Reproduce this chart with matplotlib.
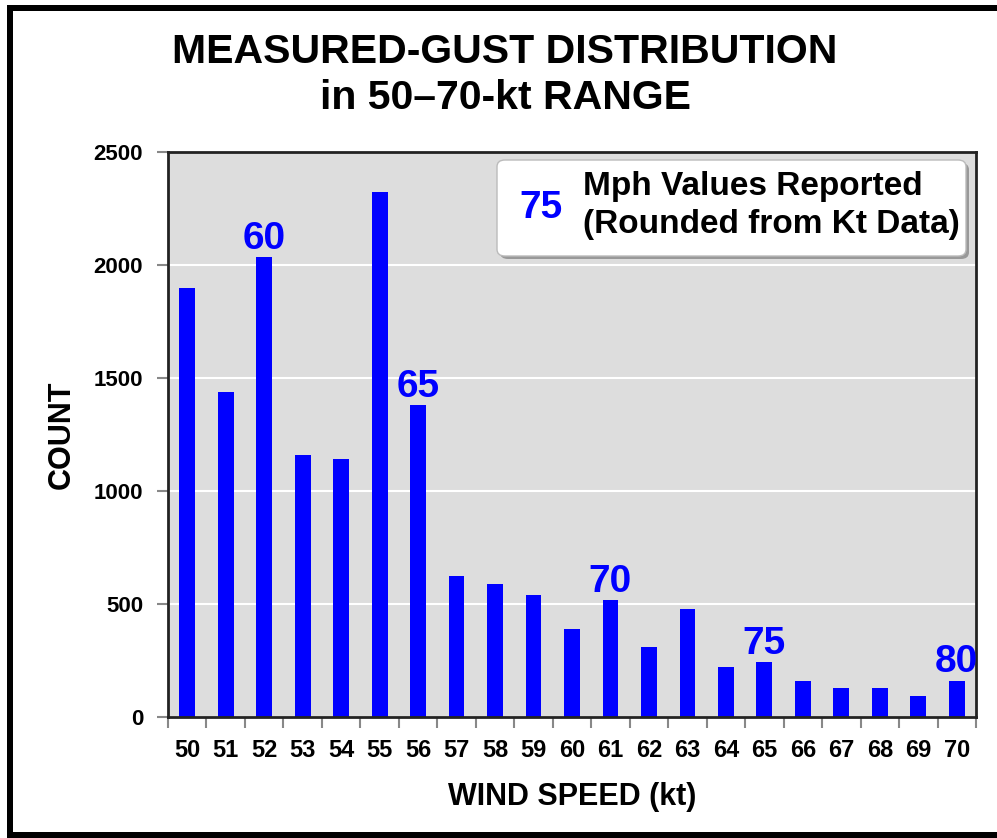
import matplotlib
matplotlib.use("Agg")
import matplotlib.pyplot as plt
from matplotlib.patches import FancyBboxPatch
from matplotlib.lines import Line2D

plt.rcParams['font.family'] = ['Liberation Sans', 'DejaVu Sans']
plt.rcParams['font.weight'] = 'bold'

# ---- data ----
wind_kt = [50, 51, 52, 53, 54, 55, 56, 57, 58, 59, 60,
           61, 62, 63, 64, 65, 66, 67, 68, 69, 70]
counts = [1900, 1440, 2035, 1160, 1142, 2325, 1380, 624, 588, 540, 389,
          518, 311, 479, 221, 243, 161, 130, 130, 92, 161]
mph_kt = [52, 56, 61, 65, 70]
mph_labels = ["60", "65", "70", "75", "80"]
y_ticks = [0, 500, 1000, 1500, 2000, 2500]

W, H = 997, 838
fig = plt.figure(figsize=(W / 100, H / 100), dpi=100)
fig.patch.set_facecolor('white')

def fx(px):
    return px / W

def fy(py):
    return 1 - py / H

ax = fig.add_axes([fx(168), fy(717), fx(976) - fx(168), fy(152) - fy(717)])
ax.set_facecolor('#DDDDDD')

x = list(range(len(wind_kt)))
ax.bar(x, counts, width=0.41, color='#0000FF', zorder=3)

ax.set_xlim(-0.5, len(wind_kt) - 0.5)
ax.set_ylim(0, 2500)

# grid
ax.set_yticks(y_ticks)
ax.set_yticklabels([str(v) for v in y_ticks], fontsize=16, fontweight='bold')
ax.yaxis.grid(True, color='white', linewidth=1.5, zorder=1)
ax.set_axisbelow(True)

# x ticks at category boundaries, labels at centres
ax.set_xticks([i - 0.5 for i in range(len(wind_kt) + 1)])
ax.set_xticklabels([])
ax.set_xticks(x, minor=True)
ax.set_xticklabels([str(v) for v in wind_kt], minor=True, fontsize=17, fontweight='bold')
ax.tick_params(axis='x', which='major', length=8, width=1.5, color='#888888', direction='out')
ax.tick_params(axis='x', which='minor', length=0, pad=16)
ax.tick_params(axis='y', which='major', length=8, width=1.5, color='#888888', pad=10)

for s in ax.spines.values():
    s.set_color('#222222')
    s.set_linewidth(2)
    s.set_zorder(4)

ax.set_xlabel('WIND SPEED (kt)', fontsize=22, fontweight='bold', labelpad=14)
ax.set_ylabel('COUNT', fontsize=22, fontweight='bold', labelpad=12)

# mph annotations
for k, lab in zip(mph_kt, mph_labels):
    i = wind_kt.index(k)
    ax.annotate(lab, xy=(i, counts[i]), xytext=(0, 6), textcoords='offset points',
                ha='center', va='baseline', color='#0000FF', fontsize=28,
                fontweight='bold', zorder=5, annotation_clip=False)

# title
fig.text(fx(505), fy(52), 'MEASURED-GUST DISTRIBUTION', ha='center', va='center',
         fontsize=29.5, fontweight='bold')
fig.text(fx(505), fy(98), 'in 50\u201370-kt RANGE', ha='center', va='center',
         fontsize=29.5, fontweight='bold')

# legend box with shadow
shadow = FancyBboxPatch((fx(500), fy(259)), fx(966) - fx(497), fy(160) - fy(256),
                        boxstyle='round,pad=0,rounding_size=0.008',
                        transform=fig.transFigure, facecolor='#999999',
                        edgecolor='none', zorder=6)
fig.add_artist(shadow)
box = FancyBboxPatch((fx(497), fy(256)), fx(966) - fx(497), fy(160) - fy(256),
                     boxstyle='round,pad=0,rounding_size=0.008',
                     transform=fig.transFigure, facecolor='white',
                     edgecolor='#BBBBBB', linewidth=1, zorder=7)
fig.add_artist(box)
fig.text(fx(541), fy(208), '75', ha='center', va='center', color='#0000FF',
         fontsize=28, fontweight='bold', zorder=8)
fig.text(fx(583), fy(187), 'Mph Values Reported', ha='left', va='center',
         fontsize=24, fontweight='bold', zorder=8)
fig.text(fx(583), fy(224), '(Rounded from Kt Data)', ha='left', va='center',
         fontsize=24, fontweight='bold', zorder=8)

# outer black frame (top, left, bottom)
lw = 6 * 72 / 100
fig.add_artist(Line2D([fx(10), 1], [fy(8), fy(8)], color='black', linewidth=lw,
                      transform=fig.transFigure, solid_capstyle='projecting'))
fig.add_artist(Line2D([fx(10), fx(10)], [fy(8), fy(835)], color='black', linewidth=lw,
                      transform=fig.transFigure, solid_capstyle='projecting'))
fig.add_artist(Line2D([fx(10), 1], [fy(835), fy(835)], color='black', linewidth=lw,
                      transform=fig.transFigure, solid_capstyle='projecting'))

fig.savefig('out.png', dpi=100)
